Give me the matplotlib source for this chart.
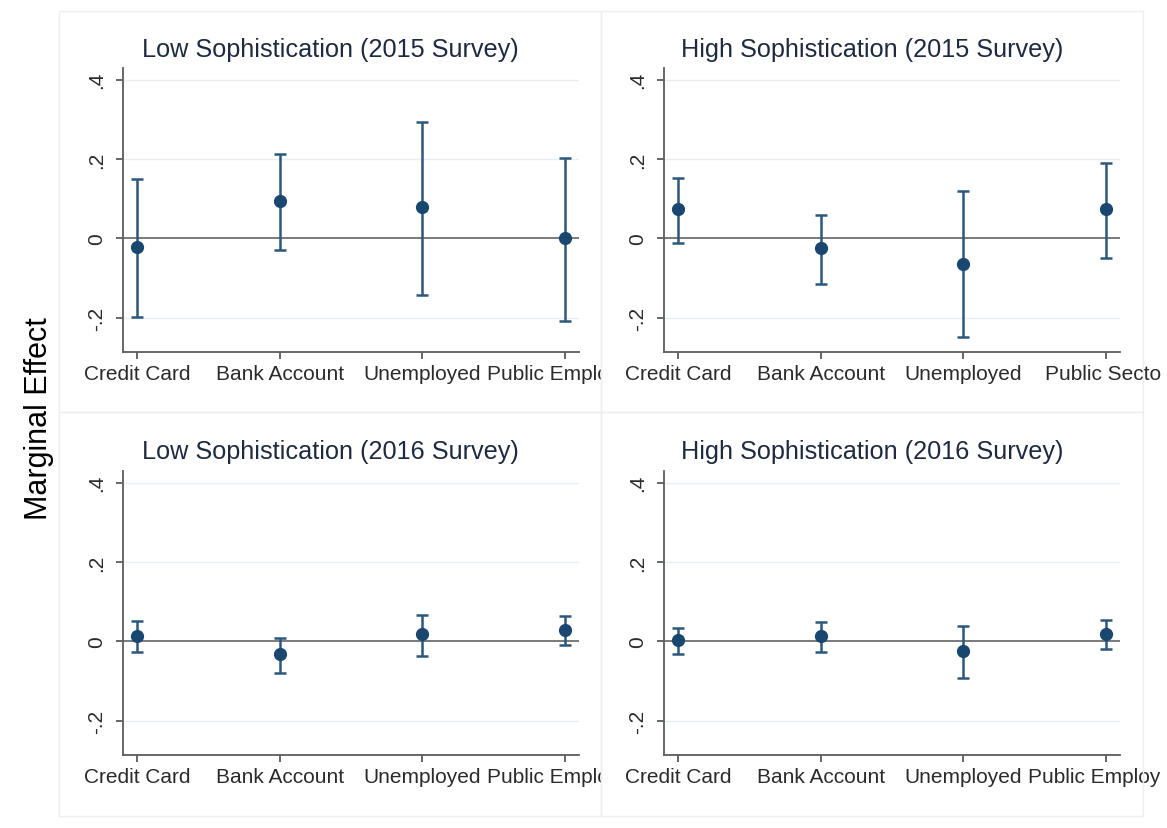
import matplotlib
matplotlib.use("Agg")
import matplotlib.pyplot as plt
from matplotlib.patches import Rectangle
from matplotlib.transforms import Bbox, TransformedBbox

plt.rcParams['font.family'] = ['Liberation Sans', 'DejaVu Sans']

# Categories on the x axis of each panel
cats_public_employee = ["Credit Card", "Bank Account", "Unemployed", "Public Employee"]
cats_public_sector = ["Credit Card", "Bank Account", "Unemployed", "Public Sector"]

# Marginal effects with 95% confidence bounds
low_2015_est = [-0.021, 0.094, 0.079, 0.000]
low_2015_lo = [-0.197, -0.028, -0.143, -0.207]
low_2015_hi = [0.150, 0.212, 0.294, 0.202]

high_2015_est = [0.075, -0.025, -0.064, 0.075]
high_2015_lo = [-0.011, -0.114, -0.249, -0.049]
high_2015_hi = [0.153, 0.060, 0.119, 0.191]

low_2016_est = [0.013, -0.031, 0.018, 0.029]
low_2016_lo = [-0.027, -0.079, -0.037, -0.009]
low_2016_hi = [0.051, 0.010, 0.066, 0.063]

high_2016_est = [0.003, 0.013, -0.024, 0.018]
high_2016_lo = [-0.031, -0.027, -0.092, -0.020]
high_2016_hi = [0.035, 0.049, 0.040, 0.054]

y_ticks = [-0.2, 0.0, 0.2, 0.4]
y_tick_labels = ["-.2", "0", ".2", ".4"]

W, H = 1167, 829
fig = plt.figure(figsize=(W / 100, H / 100), dpi=100)
fig.patch.set_facecolor("white")

MARK = "#1a476f"
BAR = "#2b587c"
SPINE = "#5c5c5c"
TITLE = "#1e2a40"

AX_W = 456.6
AX_H = 284.0


def fx(px):
    return px / W


def fy(py):
    return 1 - py / H


panels = [
    # (title, cats, est, lo, hi, axes left px, axes bottom px, box (x0, y0, x1, y1), title y, clip right px)
    ("Low Sophistication (2015 Survey)", cats_public_employee,
     low_2015_est, low_2015_lo, low_2015_hi, 122.7, 352.7, (59, 12, 601, 413), 50, 601),
    ("High Sophistication (2015 Survey)", cats_public_sector,
     high_2015_est, high_2015_lo, high_2015_hi, 663.7, 352.7, (601, 12, 1143, 413), 50, 1161),
    ("Low Sophistication (2016 Survey)", cats_public_employee,
     low_2016_est, low_2016_lo, low_2016_hi, 122.7, 755.7, (59, 413, 601, 817), 452, 601),
    ("High Sophistication (2016 Survey)", cats_public_employee,
     high_2016_est, high_2016_lo, high_2016_hi, 663.7, 755.7, (601, 413, 1143, 817), 452, 1161),
]

for title, cats, est, lo, hi, left, bottom, box, ty, clip_r in panels:
    x0, y0, x1, y1 = box
    fig.patches.append(Rectangle((fx(x0), fy(y1)), fx(x1 - x0), (y1 - y0) / H,
                                 transform=fig.transFigure, fill=False,
                                 edgecolor="#eceff2", lw=1.0, zorder=0))
    fig.text(fx((x0 + x1) / 2), fy(ty), title, ha="center", va="center",
             fontsize=18.2, color=TITLE)

    ax = fig.add_axes([fx(left), fy(bottom), fx(AX_W), AX_H / H])
    ax.set_facecolor("none")
    xs = list(range(1, len(cats) + 1))
    yerr = [[e - l for e, l in zip(est, lo)], [h - e for e, h in zip(est, hi)]]

    for g in (-0.2, 0.2, 0.4):
        ax.axhline(g, color="#e9eef4", lw=1.0, zorder=0)
    ax.axhline(0, color="#7a7a7a", lw=1.4, zorder=1)

    ax.errorbar(xs, est, yerr=yerr, fmt="o", color=MARK, ecolor=BAR,
                elinewidth=1.8, capsize=4.5, capthick=1.8, markersize=8.5,
                zorder=3)

    ax.set_xlim(0.9, 4.1)
    ax.set_ylim(-0.285, 0.43)
    ax.set_xticks(xs)
    ax.set_xticklabels(cats)
    ax.set_yticks(y_ticks)
    ax.set_yticklabels(y_tick_labels, rotation=90, va="center")

    for side in ("top", "right"):
        ax.spines[side].set_visible(False)
    for side in ("left", "bottom"):
        ax.spines[side].set_color(SPINE)
        ax.spines[side].set_linewidth(1.3)

    ax.tick_params(axis="both", direction="out", length=5, width=1.3,
                   color=SPINE, labelsize=15, labelcolor="#2b2b2b")
    ax.tick_params(axis="y", pad=7)
    ax.tick_params(axis="x", pad=3.5)

    # Long category labels run past the panel and are cut at its edge
    cb = TransformedBbox(Bbox.from_extents(fx(x0), 0, fx(clip_r), 1), fig.transFigure)
    for lab in ax.get_xticklabels():
        lab.set_clip_on(True)
        lab.set_clip_box(cb)

fig.text(fx(39), fy(419), "Marginal Effect", rotation=90, ha="center",
         va="center", fontsize=22, color="black")

fig.savefig("out.png", dpi=100, facecolor="white")
